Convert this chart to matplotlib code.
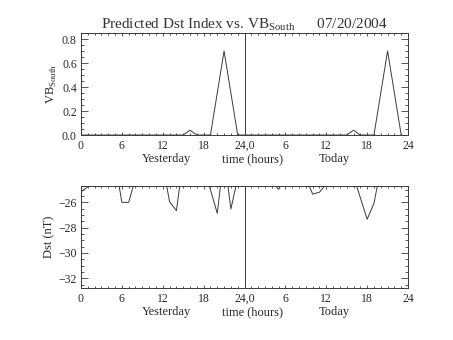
import matplotlib
matplotlib.use("Agg")
import matplotlib.pyplot as plt
from matplotlib.ticker import MultipleLocator, FixedLocator, FixedFormatter, FormatStrFormatter

plt.rcParams["font.family"] = "Liberation Serif"
plt.rcParams["mathtext.fontset"] = "custom"
plt.rcParams["mathtext.rm"] = "Liberation Serif"

# hours since start of yesterday (0..47)
hours = list(range(48))

# VB_South, yesterday then today
vb_south = [0, 0, 0, 0, 0, 0, 0, 0, 0, 0, 0, 0, 0, 0, 0, 0, 0.04, 0, 0, 0, 0.35, 0.70, 0.35, 0,
            0, 0, 0, 0, 0, 0, 0, 0, 0, 0, 0, 0, 0, 0, 0, 0, 0.04, 0, 0, 0, 0.35, 0.70, 0.35, 0]

# predicted Dst (nT), values above the frame are clipped as in the original
dst = [-25.16, -24.78, -24.0, -23.5, -23.2, -22.8, -26.0, -26.0, -24.07, -23.5, -23.4, -23.2, -23.0, -25.95, -26.66, -22.7,
       -22.9, -23.0, -23.0, -25.0, -26.87, -22.3, -26.53, -24.1,
       -23.8, -23.9, -24.0, -24.2, -24.37, -24.97, -24.1, -23.9, -23.8, -24.07, -25.35, -25.2, -24.55, -24.0,
       -23.6, -23.8, -23.93, -25.63, -27.34, -26.08, -23.3, -23.0, -23.2, -23.4]

tick_pos = [0, 6, 12, 18, 24, 30, 36, 42, 48]
tick_lbl = ["0", "6", "12", "18", "24,0", "6", "12", "18", "24"]

ink = "#3a3a3a"
txt = "#2a2a2a"
fig = plt.figure(figsize=(4.53, 3.40), dpi=100)
ax1 = fig.add_axes([0.1788, 0.6029, 0.7219, 0.3])
ax2 = fig.add_axes([0.1788, 0.1529, 0.7219, 0.3])


def style(ax):
    ax.set_xlim(0, 48)
    ax.xaxis.set_major_locator(FixedLocator(tick_pos))
    ax.xaxis.set_major_formatter(FixedFormatter(tick_lbl))
    ax.xaxis.set_minor_locator(MultipleLocator(1))
    ax.tick_params(axis="both", which="both", direction="in", top=True, right=True,
                   colors=ink, labelcolor=txt, labelsize=8.5, width=0.6)
    ax.tick_params(axis="x", which="major", length=2.4, pad=3.5)
    ax.tick_params(axis="x", which="minor", length=1.2)
    ax.tick_params(axis="y", which="major", length=4.8, pad=3)
    ax.tick_params(axis="y", which="minor", length=2.4)
    for s in ax.spines.values():
        s.set_color(ink)
        s.set_linewidth(0.7)
    ax.axvline(24, color=ink, lw=0.7)
    for x, t in [(12.5, "Yesterday"), (25.2, "time (hours)"), (37.2, "Today")]:
        ax.text(x, -0.235, t, transform=ax.get_xaxis_transform(), ha="center", va="center",
                fontsize=9, color=txt)


ax1.plot(hours, vb_south, color=ink, lw=0.7)
style(ax1)
ax1.set_ylim(0, 0.85)
ax1.yaxis.set_major_locator(MultipleLocator(0.2))
ax1.yaxis.set_minor_locator(MultipleLocator(0.05))
ax1.yaxis.set_major_formatter(FormatStrFormatter("%.1f"))
ax1.set_ylabel(r"VB$_{\rm South}$", fontsize=9, color=txt, labelpad=2)
ax1.set_title(r"Predicted Dst Index vs. VB$_{\rm South}$      07/20/2004",
              fontsize=11, color="#333333", pad=3)

ax2.plot(hours, dst, color=ink, lw=0.7)
style(ax2)
ax2.set_ylim(-32.77, -24.71)
ax2.yaxis.set_major_locator(MultipleLocator(2))
ax2.yaxis.set_minor_locator(MultipleLocator(0.5))
ax2.set_ylabel("Dst (nT)", fontsize=9, color=txt, labelpad=2)

fig.savefig("out.png", dpi=100)
